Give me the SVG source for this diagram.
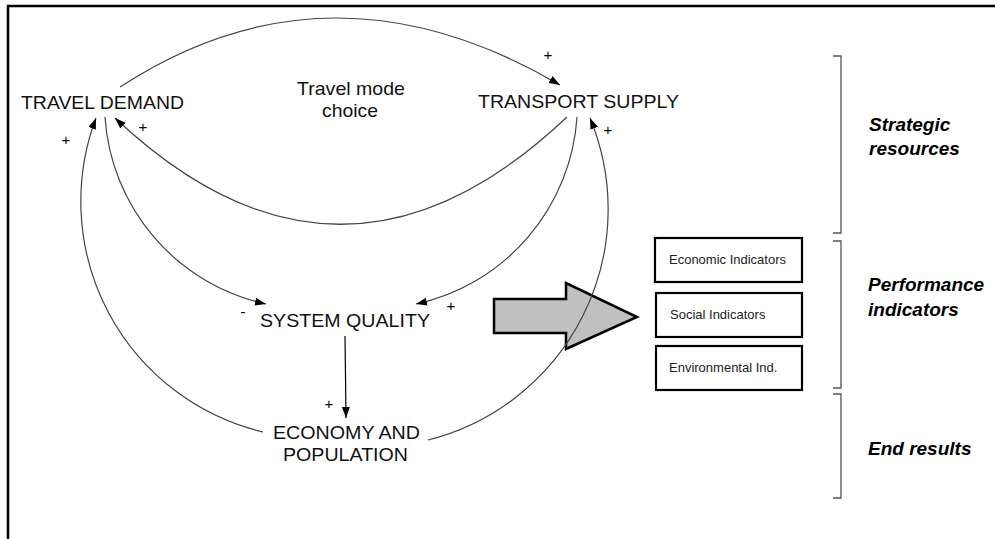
<svg xmlns="http://www.w3.org/2000/svg" width="995" height="539" viewBox="0 0 995 539">
<defs>
<marker id="ah" markerUnits="userSpaceOnUse" markerWidth="12" markerHeight="10" refX="11" refY="4" orient="auto">
<path d="M0,0 L11,4 L0,8 Z" fill="#000"/>
</marker>
<style>
.lbl{font-family:"Liberation Sans",Arial,sans-serif;font-size:19px;fill:#111}
.sm{font-family:"Liberation Sans",Arial,sans-serif;font-size:13px;fill:#222}
.sg{font-family:"Liberation Sans",Arial,sans-serif;font-size:15px;fill:#000;text-anchor:middle}
.side{font-family:"Liberation Sans",Arial,sans-serif;font-size:19px;font-weight:bold;font-style:italic;fill:#000}
.arc{fill:none;stroke:#444;stroke-width:1.2}
.box{fill:#fff;stroke:#000;stroke-width:2.2}
.br{fill:none;stroke:#555;stroke-width:1.3}
</style>
</defs>
<rect width="995" height="539" fill="#fff"/>
<path d="M8,539 L8,6 L995,6" fill="none" stroke="#000" stroke-width="2.5"/>

<g id="big-arrow">
<path d="M494,299 L566,299 L566,283 L637,317 L566,349 L566,333 L494,333 Z" fill="#c0c0c0" stroke="#000" stroke-width="2.5" stroke-linejoin="miter"/>
</g>

<g id="connectors">
<path class="arc" d="M120,87 Q330,-50 560,85" marker-end="url(#ah)"/>
<path class="arc" d="M567,117 Q341,331 115,118" marker-end="url(#ah)"/>
<path class="arc" d="M105,117 A205,205 0 0,0 266,304" marker-end="url(#ah)"/>
<path class="arc" d="M577,117 A205,205 0 0,1 416,304" marker-end="url(#ah)"/>
<path class="arc" d="M263,432 A237,237 0 0,1 96,118" marker-end="url(#ah)"/>
<path class="arc" d="M428,440 A238,238 0 0,0 590,118" marker-end="url(#ah)"/>
<path d="M345,336 L346,418" fill="none" stroke="#000" stroke-width="1.2" marker-end="url(#ah)"/>
</g>

<g id="signs">
<text class="sg" x="548" y="60">+</text>
<text class="sg" x="66" y="145">+</text>
<text class="sg" x="143" y="132">+</text>
<text class="sg" x="608" y="135">+</text>
<text class="sg" x="451" y="311">+</text>
<text class="sg" x="329" y="409">+</text>
<text class="sg" x="243" y="317">-</text>
</g>

<g id="travel-demand"><text class="lbl" x="21" y="109" textLength="163" lengthAdjust="spacingAndGlyphs">TRAVEL DEMAND</text></g>
<g id="transport-supply"><text class="lbl" x="478" y="108" textLength="201" lengthAdjust="spacingAndGlyphs">TRANSPORT SUPPLY</text></g>
<g id="mode-choice">
<text class="lbl" x="297" y="95" textLength="108" lengthAdjust="spacingAndGlyphs">Travel mode</text>
<text class="lbl" x="322" y="117" textLength="56" lengthAdjust="spacingAndGlyphs">choice</text>
</g>
<g id="system-quality"><text class="lbl" x="260" y="327" textLength="170" lengthAdjust="spacingAndGlyphs">SYSTEM QUALITY</text></g>
<g id="economy">
<text class="lbl" x="273" y="439" textLength="147" lengthAdjust="spacingAndGlyphs">ECONOMY AND</text>
<text class="lbl" x="283" y="461" textLength="125" lengthAdjust="spacingAndGlyphs">POPULATION</text>
</g>

<g id="economic"><rect class="box" x="655" y="238" width="147" height="44"/><text class="sm" x="669" y="264" textLength="117" lengthAdjust="spacingAndGlyphs">Economic Indicators</text></g>
<g id="social"><rect class="box" x="656" y="293" width="146" height="44"/><text class="sm" x="670" y="319">Social Indicators</text></g>
<g id="environmental"><rect class="box" x="656" y="346" width="146" height="44"/><text class="sm" x="669" y="372">Environmental Ind.</text></g>

<g id="brackets">
<path class="br" d="M833,56 L841,56 L841,233 L833,233"/>
<path class="br" d="M833,241 L841,241 L841,388 L833,388"/>
<path class="br" d="M833,394 L841,394 L841,498 L833,498"/>
</g>
<g id="side-labels">
<text class="side" x="869" y="131">Strategic</text>
<text class="side" x="869" y="155">resources</text>
<text class="side" x="868" y="291">Performance</text>
<text class="side" x="868" y="316">indicators</text>
<text class="side" x="868" y="455">End results</text>
</g>
</svg>
